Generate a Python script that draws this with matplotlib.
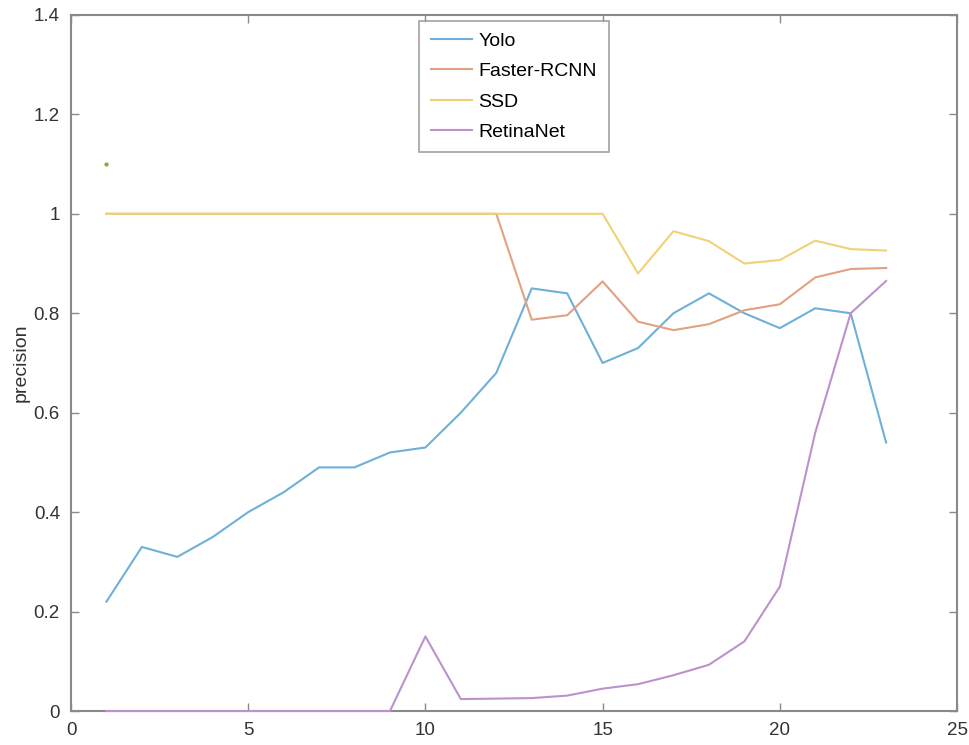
import numpy as np
import matplotlib
matplotlib.use("Agg")
import matplotlib.pyplot as plt

plt.rcParams['font.family'] = ['Liberation Sans', 'DejaVu Sans']

# detection precision per step
x = list(range(1, 24))
yolo = [0.22, 0.33, 0.31, 0.35, 0.40, 0.44, 0.49, 0.49, 0.52, 0.53, 0.60, 0.68,
        0.85, 0.84, 0.70, 0.73, 0.80, 0.84, 0.80, 0.77, 0.81, 0.80, 0.54]
faster_rcnn = [1.0] * 12 + [0.787, 0.796, 0.864, 0.783, 0.766, 0.778, 0.806,
                            0.818, 0.872, 0.889, 0.891]
ssd = [1.0] * 15 + [0.88, 0.965, 0.945, 0.90, 0.907, 0.946, 0.929, 0.926]
retinanet = [0.0] * 9 + [0.15, 0.024, 0.025, 0.026, 0.031, 0.045, 0.054, 0.072,
                         0.093, 0.14, 0.25, 0.56, 0.80, 0.865]
extra_x = [1]
extra_y = [1.1]

names = ['Yolo', 'Faster-RCNN', 'SSD', 'RetinaNet']
colors = ['#6fb0d8', '#e2a182', '#f0d276', '#bb92cc']

fig = plt.figure(figsize=(9.7, 7.45), dpi=100)
ax = fig.add_axes([0.0732, 0.0456, 0.9134, 0.9344])

for series, name, c in zip([yolo, faster_rcnn, ssd, retinanet], names, colors):
    ax.plot(x, series, color=c, lw=1.5, label=name, clip_on=False, zorder=3)
ax.plot(extra_x, extra_y, '.', color='#78b040', ms=4)

ax.set_xlim(0, 25)
ax.set_ylim(0, 1.4)
ax.set_xticks(np.arange(0, 26, 5))
ax.set_yticks(np.arange(0, 1.41, 0.2))
ax.set_yticklabels(['0', '0.2', '0.4', '0.6', '0.8', '1', '1.2', '1.4'])
ax.set_ylabel('precision', fontsize=14, color='#333333', labelpad=3)

ax.tick_params(direction='in', top=True, right=True, length=6, width=1,
               color='#8a8a8a', labelsize=13.5, labelcolor='#333333', pad=8)
for s in ax.spines.values():
    s.set_color('#8a8a8a')
    s.set_linewidth(1.5)

leg = ax.legend(loc='upper center', bbox_to_anchor=(0.5, 1.0), fontsize=14,
                frameon=True, fancybox=False, edgecolor='#8a8a8a',
                handlelength=2.1, borderpad=0.6, labelspacing=0.65,
                handletextpad=0.35, borderaxespad=0.3)
leg.get_frame().set_linewidth(1.2)

fig.savefig('out.png', dpi=100)
